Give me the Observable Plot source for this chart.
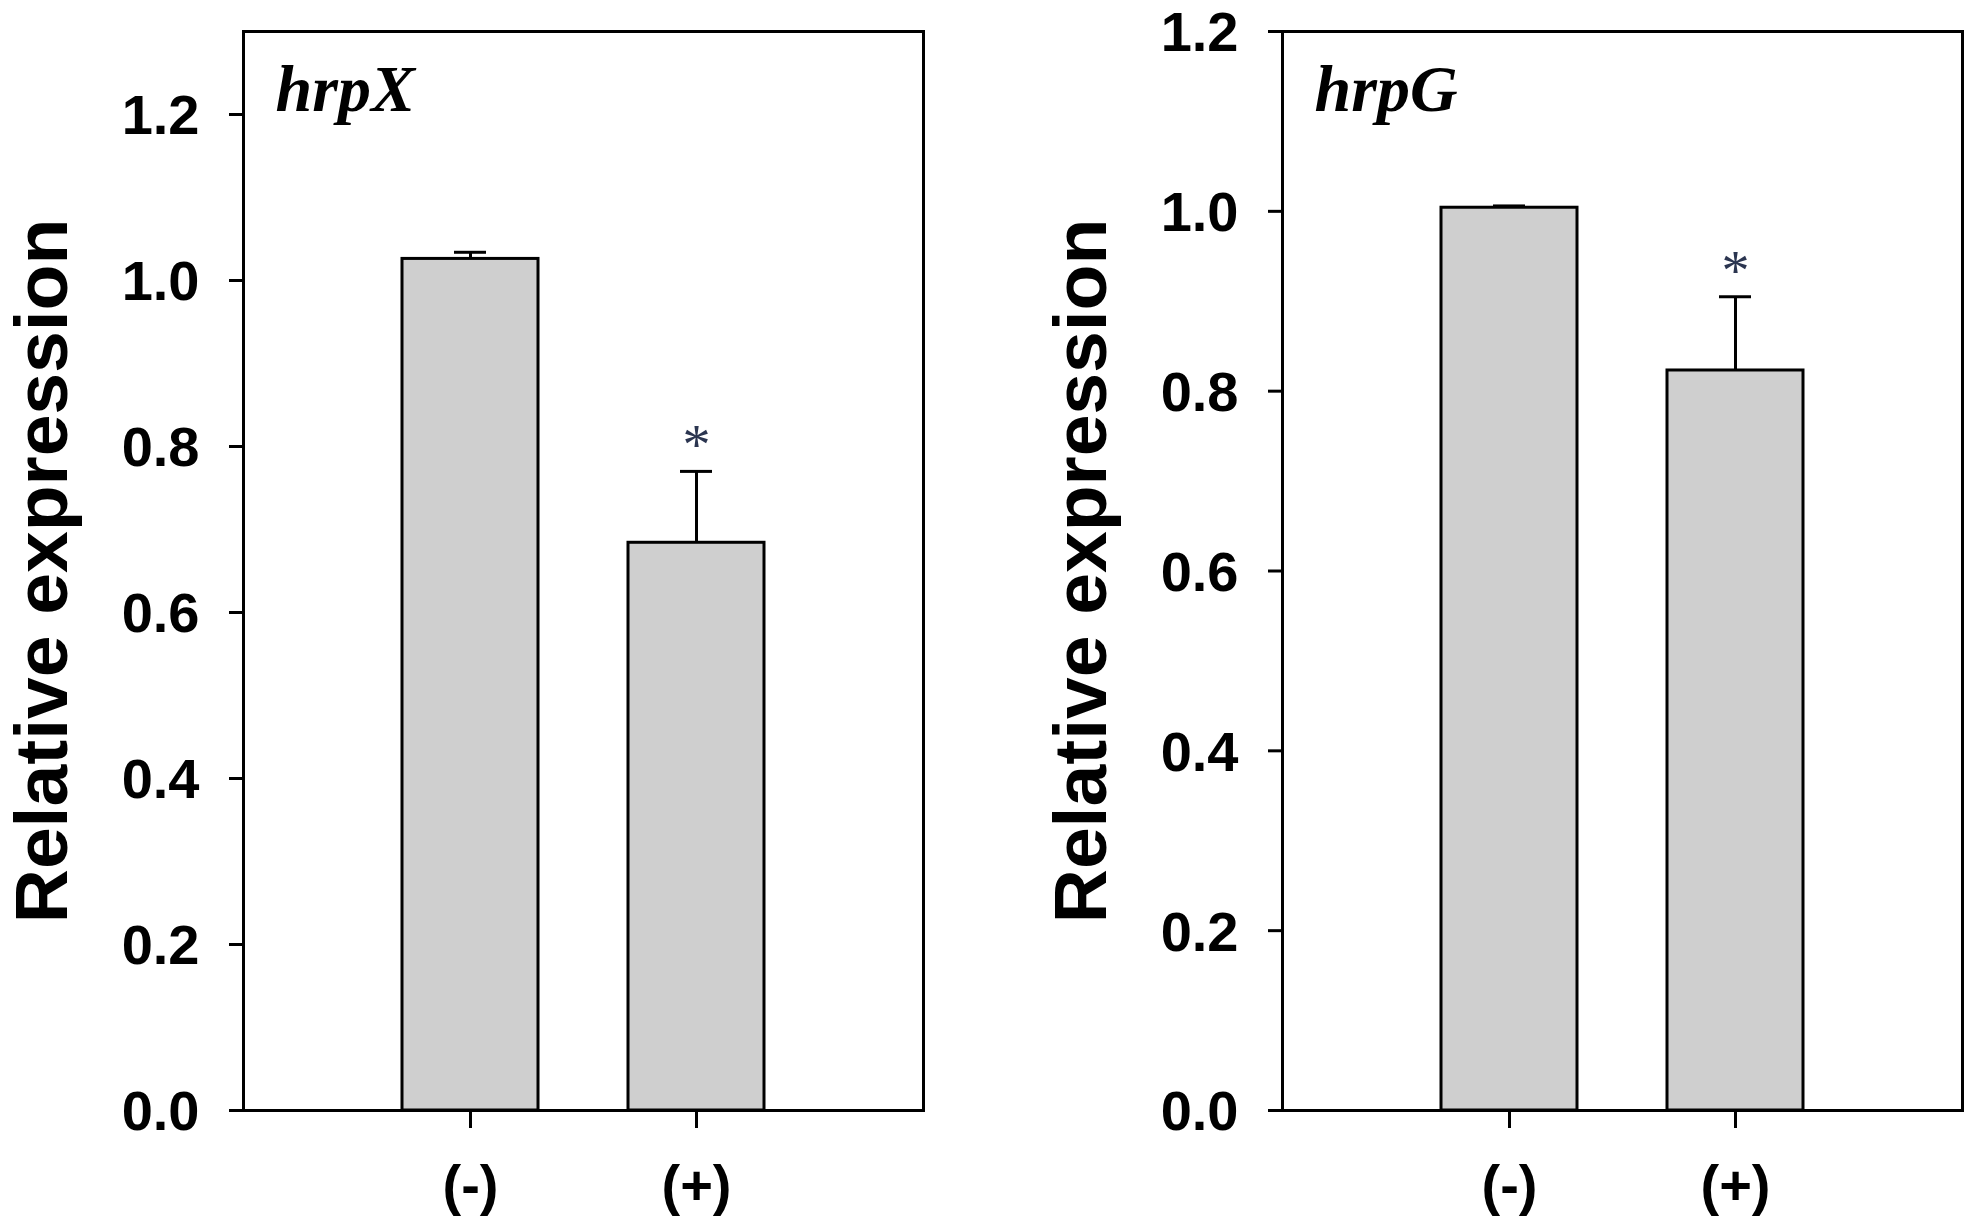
<!DOCTYPE html>
<html>
<head>
<meta charset="utf-8">
<script src="https://cdn.jsdelivr.net/npm/d3@7"></script>
<script src="https://cdn.jsdelivr.net/npm/@observablehq/plot@0.6"></script>
<style>
  html, body { margin: 0; padding: 0; background: #fff; }
  #row { display: flex; flex-direction: row; width: 1969px; height: 1230px; }
</style>
</head>
<body>
<div id="row"></div>
<script>
// ---- data ----
const conditions = ["(-)", "(+)"];
const hrpXMean = [1.026, 0.684];
const hrpXErr = [0.008, 0.086];
const hrpGMean = [1.004, 0.823];
const hrpGErr = [0.002, 0.082];
const significant = [false, true];
const yTicks = [0, 0.2, 0.4, 0.6, 0.8, 1.0, 1.2];
const yLabel = "Relative expression";

function panel({gene, means, errs, yMax, width, marginRight}) {
  const data = conditions.map((c, i) => ({
    cond: c, mean: means[i], top: means[i] + errs[i], sig: significant[i]
  }));
  const marginLeft = 243;
  const frameW = width - marginLeft - marginRight;
  const bandW = frameW * 0.2;
  const capW = 32;
  const capInset = (bandW - capW) / 2;
  return Plot.plot({
    width,
    height: 1230,
    marginLeft,
    marginRight,
    marginTop: 31,
    marginBottom: 120,
    style: {fontFamily: "'Liberation Sans', Arial, sans-serif", background: "white"},
    x: {type: "band", domain: conditions, paddingInner: 0.4, paddingOuter: 0.7, label: null},
    y: {domain: [0, yMax], label: null},
    marks: [
      Plot.barY(data, {x: "cond", y: "mean", fill: "#cfcfcf", stroke: "black", strokeWidth: 3}),
      Plot.ruleX(data, {x: "cond", y1: "mean", y2: "top", stroke: "black", strokeWidth: 3}),
      Plot.tickY(data, {x: "cond", y: "top", stroke: "black", strokeWidth: 3, insetLeft: capInset, insetRight: capInset}),
      Plot.text(data.filter(d => d.sig), {
        x: "cond", y: "top", text: () => "*", lineAnchor: "bottom", dy: -7,
        fontFamily: "'Liberation Serif', 'Times New Roman', serif", fontSize: 56, fill: "#2b3550"
      }),
      Plot.frame({stroke: "black", strokeWidth: 3}),
      // y tick marks (no labels)
      Plot.axisY({
        ticks: yTicks, tickFormat: () => "", tickSize: 14, strokeWidth: 3, label: null
      }),
      // y tick labels
      Plot.axisY({
        ticks: yTicks, tickFormat: d3.format(".1f"), tickSize: 0, tickPadding: 44, dy: 2,
        fontSize: 56, fontWeight: "bold", fill: "black", label: null
      }),
      Plot.axisX({
        tickSize: 18, tickPadding: 36, strokeWidth: 3, fontSize: 56, fontWeight: "bold",
        fill: "black", label: null
      }),
      Plot.text([gene], {
        frameAnchor: "top-left", text: d => d, textAnchor: "start", lineAnchor: "bottom",
        dx: 32, dy: 79, fontFamily: "'Liberation Serif', 'Times New Roman', serif",
        fontStyle: "italic", fontWeight: "bold", fontSize: 66, fill: "black"
      }),
      Plot.text([yLabel], {
        frameAnchor: "left", text: d => d, rotate: -90, textAnchor: "middle", lineAnchor: "bottom",
        dx: -177, fontSize: 75, fontWeight: "bold", fill: "black"
      })
    ]
  });
}

const row = document.getElementById("row");
row.append(panel({gene: "hrpX", means: hrpXMean, errs: hrpXErr, yMax: 1.3, width: 1039, marginRight: 116}));
row.append(panel({gene: "hrpG", means: hrpGMean, errs: hrpGErr, yMax: 1.2, width: 930, marginRight: 7}));
</script>
</body>
</html>
